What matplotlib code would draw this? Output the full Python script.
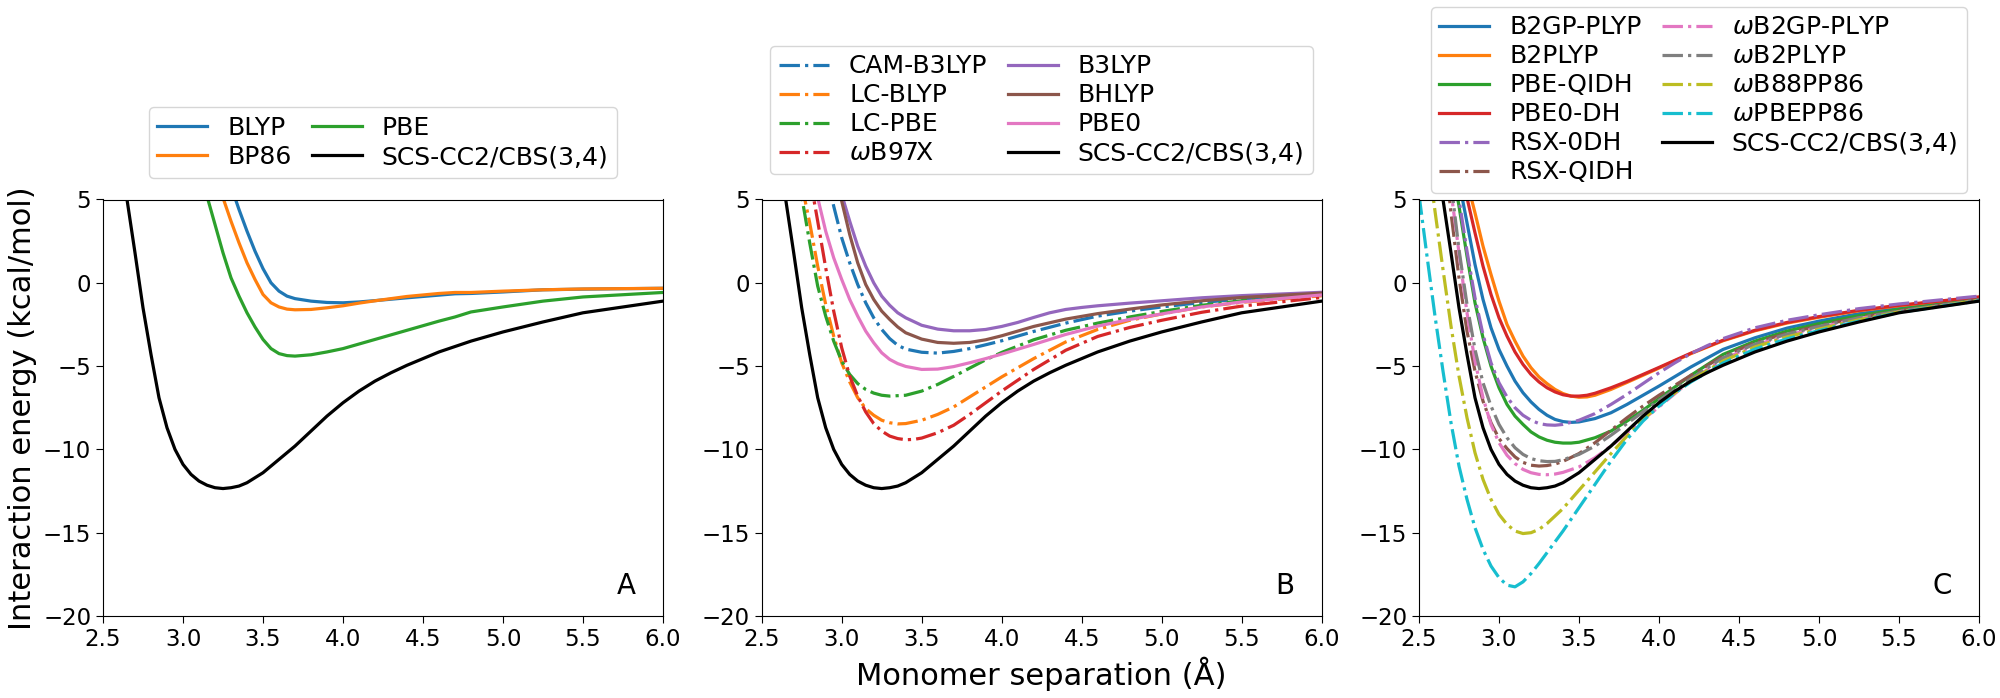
import matplotlib
matplotlib.use("Agg")
import matplotlib.pyplot as plt

# ---------------- data ----------------
# Reference SCS-CC2/CBS(3,4) curve (same in every panel)
ref_x = [2.60, 2.65, 2.70, 2.75, 2.80, 2.85, 2.90, 2.95, 3.00, 3.05, 3.10, 3.15, 3.20, 3.25, 3.30, 3.35,
         3.40, 3.50, 3.60, 3.70, 3.80, 3.90, 4.00, 4.10, 4.20, 4.30, 4.40, 4.50, 4.60, 4.80, 5.00,
         5.25, 5.50, 5.75, 6.00]
ref_y = [9.5, 5.0, 1.8, -1.5, -4.3, -6.9, -8.7, -10.0, -10.9, -11.5, -11.9, -12.15, -12.3, -12.35, -12.3, -12.2,
         -12.0, -11.4, -10.6, -9.8, -8.9, -8.0, -7.2, -6.5, -5.9, -5.4, -4.95, -4.55, -4.15, -3.5, -2.95,
         -2.35, -1.8, -1.45, -1.1]
ref_label = "SCS-CC2/CBS(3,4)"

# Panel A: GGA functionals
blyp_x = [3.30, 3.35, 3.40, 3.45, 3.50, 3.55, 3.60, 3.65, 3.70, 3.80, 3.90, 4.00, 4.10, 4.20, 4.40, 4.60,
          4.70, 4.80, 5.00, 5.25, 5.50, 6.00]
blyp_y = [5.8, 4.4, 3.1, 1.9, 0.85, 0.0, -0.5, -0.8, -0.95, -1.1, -1.18, -1.2, -1.15, -1.07, -0.9, -0.74,
          -0.66, -0.64, -0.55, -0.42, -0.38, -0.33]
bp86_x = [3.20, 3.25, 3.30, 3.35, 3.40, 3.45, 3.50, 3.55, 3.60, 3.65, 3.70, 3.80, 3.90, 4.00, 4.10, 4.20,
          4.40, 4.60, 4.70, 4.80, 5.00, 5.25, 5.50, 6.00]
bp86_y = [6.4, 5.1, 3.7, 2.4, 1.2, 0.2, -0.7, -1.2, -1.45, -1.58, -1.62, -1.6, -1.5, -1.38, -1.22, -1.08,
          -0.82, -0.64, -0.58, -0.58, -0.5, -0.42, -0.37, -0.33]
pbe_x = [3.10, 3.15, 3.20, 3.25, 3.30, 3.35, 3.40, 3.45, 3.50, 3.55, 3.60, 3.65, 3.70, 3.80, 3.90, 4.00,
         4.20, 4.40, 4.60, 4.70, 4.80, 5.00, 5.25, 5.50, 6.00]
pbe_y = [6.9, 5.2, 3.5, 1.8, 0.3, -0.8, -1.8, -2.65, -3.4, -3.95, -4.25, -4.37, -4.4, -4.32, -4.15, -3.95,
         -3.4, -2.85, -2.3, -2.05, -1.75, -1.45, -1.1, -0.85, -0.58]

# Panel B: hybrid and range-separated functionals
camb3lyp_x = [2.90, 2.95, 3.00, 3.05, 3.10, 3.15, 3.20, 3.25, 3.30, 3.35, 3.40, 3.50, 3.60, 3.70, 3.80,
              3.90, 4.00, 4.20, 4.40, 4.60, 4.80, 5.00, 5.25, 5.50, 6.00]
camb3lyp_y = [6.7, 4.6, 2.7, 1.2, -0.1, -1.2, -2.1, -2.8, -3.35, -3.75, -3.98, -4.17, -4.22, -4.12, -3.95,
              -3.72, -3.48, -2.92, -2.42, -2.0, -1.7, -1.45, -1.18, -0.97, -0.68]
lcblyp_x = [2.75, 2.80, 2.85, 2.90, 2.95, 3.00, 3.05, 3.10, 3.15, 3.20, 3.25, 3.30, 3.35, 3.40, 3.50, 3.60,
            3.70, 3.80, 3.90, 4.00, 4.20, 4.40, 4.60, 4.80, 5.00, 5.25, 5.50, 6.00]
lcblyp_y = [5.9, 3.6, 1.0, -1.3, -3.2, -4.8, -5.95, -6.9, -7.55, -7.95, -8.25, -8.4, -8.47, -8.45, -8.25, -7.9,
            -7.45, -6.85, -6.25, -5.65, -4.55, -3.55, -2.8, -2.25, -1.87, -1.45, -1.17, -0.78]
lcpbe_x = [2.72, 2.75, 2.80, 2.85, 2.90, 2.95, 3.00, 3.05, 3.10, 3.15, 3.20, 3.25, 3.30, 3.40, 3.50, 3.60,
           3.70, 3.80, 3.90, 4.00, 4.20, 4.40, 4.60, 4.80, 5.00, 5.25, 5.50, 6.00]
lcpbe_y = [6.6, 5.2, 2.4, -0.2, -2.0, -3.5, -4.7, -5.5, -6.05, -6.4, -6.62, -6.75, -6.8, -6.75, -6.5, -6.1,
           -5.62, -5.12, -4.62, -4.18, -3.42, -2.85, -2.42, -2.05, -1.72, -1.35, -1.08, -0.7]
wb97x_x = [2.80, 2.85, 2.90, 2.95, 3.00, 3.05, 3.10, 3.15, 3.20, 3.25, 3.30, 3.35, 3.40, 3.45, 3.50, 3.60,
           3.70, 3.80, 3.90, 4.00, 4.20, 4.40, 4.60, 4.80, 5.00, 5.25, 5.50, 6.00]
wb97x_y = [6.4, 3.7, 0.9, -1.7, -3.9, -5.6, -6.8, -7.75, -8.45, -8.9, -9.2, -9.35, -9.42, -9.4, -9.32, -9.0,
           -8.55, -7.9, -7.2, -6.5, -5.2, -4.05, -3.22, -2.68, -2.25, -1.77, -1.4, -0.88]
b3lyp_x = [2.98, 3.00, 3.05, 3.10, 3.15, 3.20, 3.25, 3.30, 3.35, 3.40, 3.50, 3.60, 3.70, 3.80, 3.90, 4.00,
           4.10, 4.20, 4.30, 4.40, 4.50, 4.60, 4.80, 5.00, 5.25, 5.50, 6.00]
b3lyp_y = [6.1, 5.3, 3.7, 2.2, 1.0, 0.0, -0.8, -1.35, -1.8, -2.1, -2.55, -2.78, -2.88, -2.88, -2.8, -2.62,
           -2.38, -2.08, -1.8, -1.6, -1.48, -1.38, -1.22, -1.08, -0.9, -0.77, -0.57]
bhlyp_x = [2.97, 3.00, 3.05, 3.10, 3.15, 3.20, 3.25, 3.30, 3.35, 3.40, 3.50, 3.60, 3.70, 3.80, 3.90, 4.00,
           4.10, 4.20, 4.40, 4.60, 4.80, 5.00, 5.25, 5.50, 6.00]
bhlyp_y = [6.2, 4.9, 2.9, 1.2, -0.1, -1.0, -1.7, -2.2, -2.65, -3.0, -3.38, -3.58, -3.63, -3.58, -3.42, -3.18,
           -2.9, -2.62, -2.18, -1.85, -1.58, -1.33, -1.08, -0.88, -0.62]
pbe0_x = [2.82, 2.85, 2.90, 2.95, 3.00, 3.05, 3.10, 3.15, 3.20, 3.25, 3.30, 3.35, 3.40, 3.50, 3.60, 3.70,
          3.80, 3.90, 4.00, 4.20, 4.40, 4.60, 4.80, 5.00, 5.25, 5.50, 6.00]
pbe0_y = [6.4, 5.1, 3.1, 1.5, 0.2, -1.0, -2.0, -2.9, -3.6, -4.2, -4.6, -4.85, -5.02, -5.2, -5.18, -5.03,
          -4.8, -4.55, -4.28, -3.7, -3.1, -2.6, -2.2, -1.87, -1.45, -1.15, -0.73]

# Panel C: double hybrids
b2gpplyp_x = [2.75, 2.80, 2.85, 2.90, 2.95, 3.00, 3.05, 3.10, 3.15, 3.20, 3.25, 3.30, 3.35, 3.40, 3.45, 3.50,
              3.60, 3.70, 3.80, 3.90, 4.00, 4.20, 4.40, 4.60, 4.80, 5.00, 5.25, 5.50, 6.00]
b2gpplyp_y = [6.1, 3.6, 1.1, -1.0, -2.7, -4.0, -5.0, -5.9, -6.6, -7.15, -7.6, -7.95, -8.2, -8.33, -8.38, -8.35,
              -8.15, -7.8, -7.3, -6.75, -6.2, -5.05, -4.0, -3.3, -2.72, -2.3, -1.85, -1.53, -0.97]
b2plyp_x = [2.80, 2.85, 2.90, 2.95, 3.00, 3.05, 3.10, 3.15, 3.20, 3.25, 3.30, 3.35, 3.40, 3.45, 3.50, 3.55,
            3.60, 3.70, 3.80, 3.90, 4.00, 4.20, 4.40, 4.60, 4.80, 5.00, 5.25, 5.50, 6.00]
b2plyp_y = [6.1, 4.2, 2.2, 0.5, -1.1, -2.5, -3.5, -4.4, -5.1, -5.65, -6.05, -6.4, -6.65, -6.8, -6.87, -6.85,
            -6.75, -6.4, -5.98, -5.55, -5.12, -4.25, -3.48, -2.88, -2.42, -2.07, -1.68, -1.38, -0.87]
pbeqidh_x = [2.72, 2.75, 2.80, 2.85, 2.90, 2.95, 3.00, 3.05, 3.10, 3.15, 3.20, 3.25, 3.30, 3.35, 3.40, 3.45,
             3.50, 3.60, 3.70, 3.80, 3.90, 4.00, 4.20, 4.40, 4.60, 4.80, 5.00, 5.25, 5.50, 6.00]
pbeqidh_y = [6.3, 4.6, 1.6, -1.2, -3.3, -5.0, -6.3, -7.3, -8.0, -8.5, -8.95, -9.25, -9.45, -9.57, -9.62, -9.62,
             -9.57, -9.3, -8.9, -8.3, -7.65, -6.95, -5.55, -4.3, -3.5, -2.9, -2.45, -1.97, -1.6, -1.0]
pbe0dh_x = [2.78, 2.80, 2.85, 2.90, 2.95, 3.00, 3.05, 3.10, 3.15, 3.20, 3.25, 3.30, 3.35, 3.40, 3.45, 3.50,
            3.55, 3.60, 3.70, 3.80, 3.90, 4.00, 4.20, 4.40, 4.60, 4.80, 5.00, 5.25, 5.50, 6.00]
pbe0dh_y = [5.9, 5.1, 3.0, 1.0, -0.7, -2.1, -3.2, -4.15, -4.9, -5.5, -5.95, -6.3, -6.55, -6.72, -6.8, -6.8,
            -6.75, -6.63, -6.3, -5.92, -5.5, -5.08, -4.22, -3.45, -2.85, -2.38, -2.03, -1.65, -1.35, -0.85]
rsx0dh_x = [2.73, 2.75, 2.80, 2.85, 2.90, 2.95, 3.00, 3.05, 3.10, 3.15, 3.20, 3.25, 3.30, 3.35, 3.40, 3.50,
            3.60, 3.70, 3.80, 3.90, 4.00, 4.10, 4.20, 4.30, 4.40, 4.60, 4.80, 5.00, 5.25, 5.50, 6.00]
rsx0dh_y = [6.2, 5.0, 1.9, -0.9, -3.1, -4.8, -6.0, -6.85, -7.5, -7.95, -8.25, -8.45, -8.53, -8.55, -8.5, -8.25,
            -7.85, -7.3, -6.7, -6.05, -5.4, -4.8, -4.25, -3.78, -3.35, -2.7, -2.25, -1.92, -1.55, -1.27, -0.8]
rsxqidh_x = [2.68, 2.70, 2.75, 2.80, 2.85, 2.90, 2.95, 3.00, 3.05, 3.10, 3.15, 3.20, 3.25, 3.30, 3.35, 3.40,
             3.50, 3.60, 3.70, 3.80, 3.90, 4.00, 4.20, 4.40, 4.60, 4.80, 5.00, 5.25, 5.50, 6.00]
rsxqidh_y = [6.0, 4.2, 0.3, -2.9, -5.3, -7.1, -8.4, -9.35, -9.95, -10.45, -10.78, -10.95, -11.0, -10.97, -10.88,
             -10.72, -10.25, -9.6, -8.85, -8.1, -7.4, -6.75, -5.55, -4.4, -3.6, -3.02, -2.58, -2.08, -1.68, -1.0]
wb2gpplyp_x = [2.69, 2.70, 2.75, 2.80, 2.85, 2.90, 2.95, 3.00, 3.05, 3.10, 3.15, 3.20, 3.25, 3.30, 3.35, 3.40,
               3.50, 3.60, 3.70, 3.80, 3.90, 4.00, 4.20, 4.40, 4.60, 4.80, 5.00, 5.25, 5.50, 6.00]
wb2gpplyp_y = [6.3, 5.5, 1.8, -1.8, -4.7, -6.9, -8.5, -9.6, -10.35, -10.85, -11.2, -11.4, -11.5, -11.52, -11.48,
               -11.38, -11.05, -10.5, -9.8, -9.0, -8.2, -7.45, -5.85, -4.6, -3.75, -3.15, -2.68, -2.15, -1.73, -1.05]
wb2plyp_x = [2.70, 2.75, 2.80, 2.85, 2.90, 2.95, 3.00, 3.05, 3.10, 3.15, 3.20, 3.25, 3.30, 3.35, 3.40, 3.50,
             3.60, 3.70, 3.80, 3.90, 4.00, 4.20, 4.40, 4.60, 4.80, 5.00, 5.25, 5.50, 6.00]
wb2plyp_y = [6.0, 2.0, -1.3, -4.0, -6.0, -7.4, -8.5, -9.3, -9.9, -10.3, -10.55, -10.68, -10.73, -10.72, -10.62,
             -10.3, -9.8, -9.15, -8.45, -7.75, -7.05, -5.75, -4.5, -3.68, -3.08, -2.62, -2.1, -1.7, -1.02]
wb88pp86_x = [2.57, 2.60, 2.65, 2.70, 2.75, 2.80, 2.85, 2.90, 2.95, 3.00, 3.05, 3.10, 3.15, 3.20, 3.25, 3.30,
              3.40, 3.50, 3.60, 3.70, 3.80, 3.90, 4.00, 4.20, 4.40, 4.60, 4.80, 5.00, 5.25, 5.50, 6.00]
wb88pp86_y = [6.5, 4.3, 0.8, -2.6, -5.6, -8.1, -10.2, -11.8, -13.0, -13.9, -14.5, -14.9, -15.05, -15.0, -14.8,
              -14.45, -13.55, -12.45, -11.35, -10.25, -9.2, -8.2, -7.35, -5.85, -4.7, -3.85, -3.25, -2.78, -2.22,
              -1.75, -1.05]
wpbepp86_x = [2.50, 2.55, 2.60, 2.65, 2.70, 2.75, 2.80, 2.85, 2.90, 2.95, 3.00, 3.05, 3.10, 3.15, 3.20, 3.25,
              3.30, 3.40, 3.50, 3.60, 3.70, 3.80, 3.90, 4.00, 4.10, 4.20, 4.40, 4.60, 4.80, 5.00, 5.25, 5.50, 6.00]
wpbepp86_y = [5.3, 1.6, -2.0, -5.3, -8.4, -11.0, -13.0, -14.7, -16.0, -17.0, -17.7, -18.15, -18.25, -17.95,
              -17.45, -16.85, -16.2, -14.9, -13.5, -12.1, -10.7, -9.4, -8.3, -7.4, -6.6, -5.95, -4.82, -3.98,
              -3.36, -2.87, -2.3, -1.78, -1.08]

panelA = [("BLYP", blyp_x, blyp_y, "-"),
          ("BP86", bp86_x, bp86_y, "-"),
          ("PBE", pbe_x, pbe_y, "-")]
panelB = [("CAM-B3LYP", camb3lyp_x, camb3lyp_y, "-."),
          ("LC-BLYP", lcblyp_x, lcblyp_y, "-."),
          ("LC-PBE", lcpbe_x, lcpbe_y, "-."),
          (r"$\omega$B97X", wb97x_x, wb97x_y, "-."),
          ("B3LYP", b3lyp_x, b3lyp_y, "-"),
          ("BHLYP", bhlyp_x, bhlyp_y, "-"),
          ("PBE0", pbe0_x, pbe0_y, "-")]
panelC = [("B2GP-PLYP", b2gpplyp_x, b2gpplyp_y, "-"),
          ("B2PLYP", b2plyp_x, b2plyp_y, "-"),
          ("PBE-QIDH", pbeqidh_x, pbeqidh_y, "-"),
          ("PBE0-DH", pbe0dh_x, pbe0dh_y, "-"),
          ("RSX-0DH", rsx0dh_x, rsx0dh_y, "-."),
          ("RSX-QIDH", rsxqidh_x, rsxqidh_y, "-."),
          (r"$\omega$B2GP-PLYP", wb2gpplyp_x, wb2gpplyp_y, "-."),
          (r"$\omega$B2PLYP", wb2plyp_x, wb2plyp_y, "-."),
          (r"$\omega$B88PP86", wb88pp86_x, wb88pp86_y, "-."),
          (r"$\omega$PBEPP86", wpbepp86_x, wpbepp86_y, "-.")]

panel_letters = ["A", "B", "C"]
xticks = [2.5, 3.0, 3.5, 4.0, 4.5, 5.0, 5.5, 6.0]
yticks = [-20, -15, -10, -5, 0, 5]

# ---------------- figure ----------------
plt.rcParams['font.family'] = ['DejaVu Sans']
fig = plt.figure(figsize=(20, 6.98), dpi=100)

lefts = [103 / 2000, 761.7 / 2000, 1419 / 2000]
ax_w = 560 / 2000
ax_b = 1 - 616 / 698
ax_h = 416.5 / 698
legend_y = [1.052, 1.061, 1.0156]

tab = ['tab:blue', 'tab:orange', 'tab:green', 'tab:red', 'tab:purple',
       'tab:brown', 'tab:pink', 'tab:gray', 'tab:olive', 'tab:cyan']

axes = []
for i, series in enumerate([panelA, panelB, panelC]):
    ax = fig.add_axes([lefts[i], ax_b, ax_w, ax_h])
    for j, (lab, xs, ys, ls) in enumerate(series):
        ax.plot(xs, ys, ls, color=tab[j], lw=2.3, label=lab)
    ax.plot(ref_x, ref_y, '-', color='black', lw=2.3, label=ref_label)
    ax.set_xlim(2.5, 6.0)
    ax.set_ylim(-20, 5)
    ax.set_xticks(xticks)
    ax.set_yticks(yticks)
    ax.tick_params(labelsize=16.5, length=5)
    ax.text(0.952, 0.052, panel_letters[i], transform=ax.transAxes,
            ha='right', va='baseline', fontsize=20)
    ax.legend(ncol=2, loc='lower center', bbox_to_anchor=(0.5, legend_y[i]),
              borderaxespad=0, fontsize=18, columnspacing=0.8,
              labelspacing=0.2, handlelength=2.0, borderpad=0.35)
    axes.append(ax)

axes[0].set_ylabel("Interaction energy (kcal/mol)", fontsize=22)
axes[1].set_xlabel("Monomer separation (Å)", fontsize=22)

fig.savefig("out.png", dpi=100)
